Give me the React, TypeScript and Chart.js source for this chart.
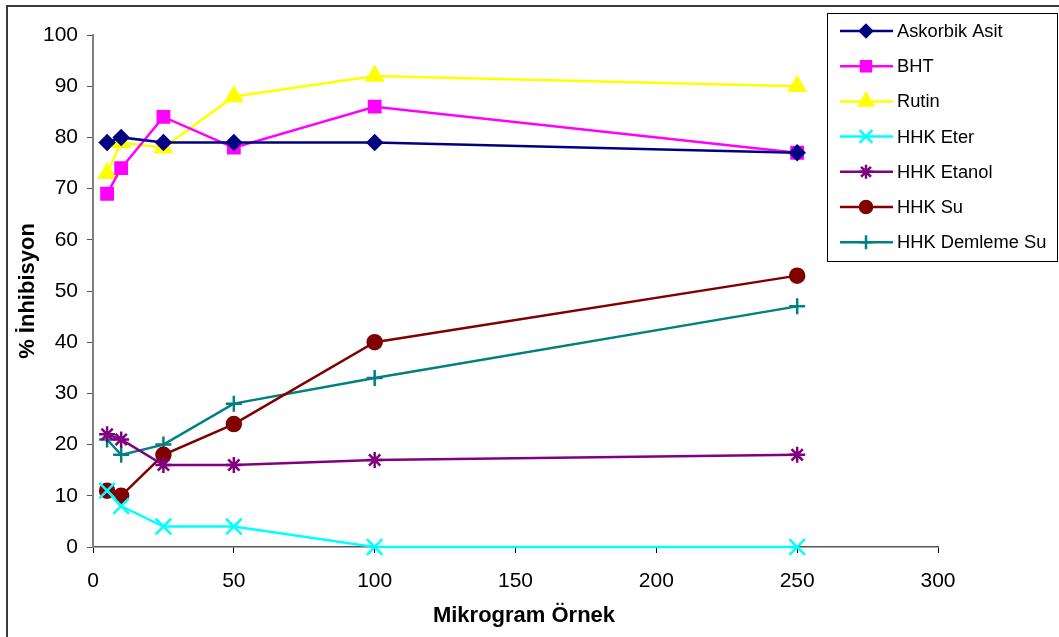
import React, { useEffect, useRef } from "react";
import { Chart, registerables } from "chart.js";
import { drawPoint } from "chart.js/helpers";

Chart.register(...registerables);

const xValues = [5, 10, 25, 50, 100, 250];
const askorbik = [79, 80, 79, 79, 79, 77];
const bht = [69, 74, 84, 78, 86, 77];
const rutin = [73, 79, 78, 88, 92, 90];
const hhkEter = [11, 8, 4, 4, 0, 0];
const hhkEtanol = [22, 21, 16, 16, 17, 18];
const hhkSu = [11, 10, 18, 24, 40, 53];
const hhkDemleme = [21, 18, 20, 28, 33, 47];

const seriesNames = ["Askorbik Asit", "BHT", "Rutin", "HHK Eter", "HHK Etanol", "HHK Su", "HHK Demleme Su"];
const seriesValues = [askorbik, bht, rutin, hhkEter, hhkEtanol, hhkSu, hhkDemleme];
const seriesColors = ["#000080", "#FF00FF", "#FFFF00", "#00FFFF", "#800080", "#800000", "#008080"];
const seriesPoints = ["rectRot", "rect", "triangle", "crossRot", "star", "circle", "cross"];
const seriesRadius = [7, 8, 9, 11, 8, 7, 8];
const legendRadius = [6, 7, 8, 9, 7, 6, 7];

const xTitle = "Mikrogram Örnek";
const yTitle = "% İnhibisyon";

const FONT = "Arial, 'Liberation Sans', sans-serif";

const framePlugin = {
  id: "frame",
  afterDraw(chart: any) {
    const ctx = chart.ctx;
    ctx.save();
    ctx.strokeStyle = "#3a3a3a";
    ctx.lineWidth = 2;
    ctx.beginPath();
    ctx.moveTo(7, 637);
    ctx.lineTo(7, 6);
    ctx.lineTo(1059, 6);
    ctx.stroke();

    // axis titles
    const area = chart.chartArea;
    ctx.fillStyle = "#000";
    ctx.font = `bold 22px ${FONT}`;
    ctx.textAlign = "center";
    ctx.textBaseline = "middle";
    ctx.fillText(xTitle, 524, 616);
    ctx.save();
    ctx.translate(28, (area.top + area.bottom) / 2);
    ctx.rotate(-Math.PI / 2);
    ctx.fillText(yTitle, 0, 0);
    ctx.restore();

    // legend box
    const bx = 827, by = 13, bw = 230, bh = 248;
    ctx.fillStyle = "#ffffff";
    ctx.fillRect(bx, by, bw, bh);
    ctx.strokeStyle = "#000000";
    ctx.lineWidth = 1;
    ctx.strokeRect(bx + 0.5, by + 0.5, bw, bh);

    chart.data.datasets.forEach((ds: any, i: number) => {
      const y = 31 + i * 35.2;
      ctx.strokeStyle = ds.borderColor;
      ctx.lineWidth = 2.5;
      ctx.beginPath();
      ctx.moveTo(840, y);
      ctx.lineTo(893, y);
      ctx.stroke();
      ctx.fillStyle = ds.pointBackgroundColor;
      ctx.strokeStyle = ds.pointBorderColor;
      drawPoint(ctx, { pointStyle: ds.pointStyle, radius: legendRadius[i], borderWidth: 2.5, rotation: 0 }, 866, y);
      ctx.fillStyle = "#000000";
      ctx.font = `18.3px ${FONT}`;
      ctx.textAlign = "left";
      ctx.textBaseline = "middle";
      ctx.fillText(ds.label, 897, y + 1);
    });
    ctx.restore();
  },
};

export default function App() {
  const ref = useRef<HTMLCanvasElement>(null);
  useEffect(() => {
    const datasets = seriesNames.map((name, i) => ({
      label: name,
      data: xValues.map((x, j) => ({ x, y: seriesValues[i][j] })),
      borderColor: seriesColors[i],
      backgroundColor: seriesColors[i],
      pointBackgroundColor: seriesColors[i],
      pointBorderColor: seriesColors[i],
      pointStyle: seriesPoints[i],
      pointRadius: seriesRadius[i],
      pointBorderWidth: 2.5,
      borderWidth: 2.5,
      tension: 0,
      fill: false,
      clip: false,
    }));
    const chart = new Chart(ref.current!, {
      type: "line",
      data: { datasets } as any,
      options: {
        responsive: false,
        animation: false,
        devicePixelRatio: 1,
        layout: { padding: { left: 0, right: 121, top: 35, bottom: 0 } },
        plugins: { legend: { display: false }, tooltip: { enabled: false } },
        scales: {
          x: {
            type: "linear",
            min: 0,
            max: 300,
            afterFit(scale: any) { scale.height = 90; },
            ticks: { stepSize: 50, color: "#000", font: { family: FONT, size: 21 }, padding: 16, maxRotation: 0 },
            grid: { drawOnChartArea: false, drawTicks: true, tickLength: 6, color: "#000", lineWidth: 1 },
            border: { color: "#555", width: 1.5 },
          },
          y: {
            min: 0,
            max: 100,
            afterFit(scale: any) { scale.width = 93; },
            ticks: { stepSize: 10, color: "#000", font: { family: FONT, size: 21 }, padding: 9 },
            grid: { drawOnChartArea: false, drawTicks: true, tickLength: 6, color: "#555", lineWidth: 1 },
            border: { color: "#808080", width: 2 },
          },
        },
      } as any,
      plugins: [framePlugin],
    });
    return () => chart.destroy();
  }, []);
  return (
    <div style={{ position: "fixed", left: 0, top: 0, width: 1059, height: 637, background: "#fff" }}>
      <canvas ref={ref} width={1059} height={637} style={{ display: "block", width: 1059, height: 637 }} />
    </div>
  );
}
